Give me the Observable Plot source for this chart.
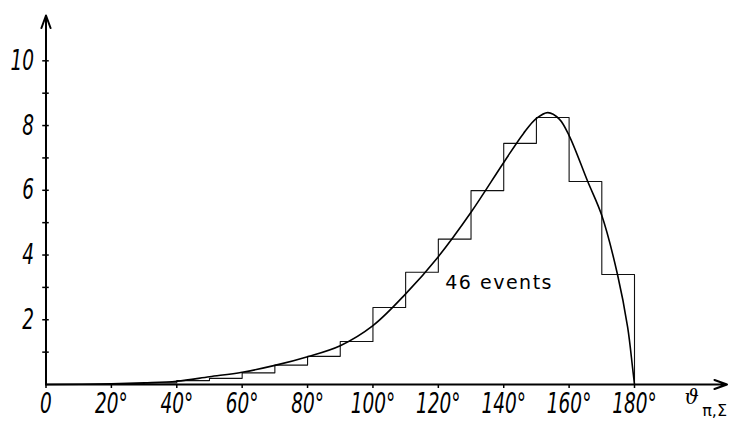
<!DOCTYPE html>
<html><head><meta charset="utf-8">
<script src="https://cdn.jsdelivr.net/npm/d3@7"></script>
<script src="https://cdn.jsdelivr.net/npm/@observablehq/plot@0.6"></script>
<style>
body{margin:0;background:#fff}
</style>
</head><body><div id="chart"></div>
<script>
// Histogram: left edges of 10° bins and their heights
const binEdges = [0,10,20,30,40,50,60,70,80,90,100,110,120,130,140,150,160,170,180];
const binHeights = [0,0,0.02,0.05,0.12,0.19,0.36,0.6,0.87,1.33,2.38,3.47,4.49,5.99,7.45,8.25,6.27,3.40,0];
// Theoretical curve
const curveAngles = [0,20,30,40,50,60,70,80,90,100,110,120,130,140,146,150,153.5,157,160,165.7,170,174.8,177.9,179.4,180];
const curveValues = [0,0.02,0.05,0.1,0.24,0.38,0.59,0.86,1.2,1.82,2.8,3.95,5.32,6.86,7.75,8.22,8.4,8.2,7.69,6.27,5.22,3.40,1.77,0.53,0];
const xTicks = [0,20,40,60,80,100,120,140,160,180];
const yTickLabels = [2,4,6,8,10];
const yTickMarks = [1,2,3,4,5,6,7,8,9,10];
const annotationText = "46 events";
const axisSymbol = "ϑ";
const axisSub = "π,Σ";

const hist = binEdges.map((x,i)=>({x, y: binHeights[i]}));
const curve = curveAngles.map((x,i)=>({x, y: curveValues[i]}));
const axes = [{x1:0,y1:0,x2:208.3,y2:0},{x1:0,y1:0,x2:0,y2:11.4}];
const font = "'DejaVu Sans',sans-serif";

const chart = Plot.plot({
  width:729, height:422,
  marginLeft:45.5, marginRight:95, marginTop:15, marginBottom:38,
  x:{domain:[0,180]},
  y:{domain:[0,11.4]},
  style:{background:"#fff", color:"#000"},
  marks:[
    Plot.axisX({ticks:xTicks, tickFormat:d=>d===0?"0":d+"°", tickSize:4, tickPadding:5,
      fontSize:28, fontFamily:font, fontStyle:"italic", strokeWidth:1.5, label:null}),
    Plot.axisY({ticks:yTickLabels, tickSize:0, tickPadding:12,
      fontSize:28, fontFamily:font, fontStyle:"italic", label:null}),
    Plot.ruleY(yTickMarks, {y:d=>d, x1:-1, x2:1, strokeWidth:1.5}),
    Plot.line(hist, {x:"x", y:"y", curve:"step-after", stroke:"#111", strokeWidth:1.1}),
    Plot.line(curve, {x:"x", y:"y", curve:"catmull-rom", stroke:"#000", strokeWidth:1.6}),
    Plot.arrow(axes, {x1:"x1", y1:"y1", x2:"x2", y2:"y2", stroke:"#000", strokeWidth:2, headLength:10, headAngle:40}),
    Plot.text([annotationText], {x:138.6, y:3.15, text:d=>d, fontSize:19, fontFamily:"DejaVu Sans", fill:"#000"}),
    Plot.text([axisSymbol], {x:197.5, y:-0.4, text:d=>d, fontSize:20, fontFamily:"DejaVu Serif", fontStyle:"italic", fill:"#000"}),
    Plot.text([axisSub], {x:204.5, y:-0.8, text:d=>d, fontSize:16, fontFamily:"DejaVu Sans", fill:"#000"})
  ]
});
d3.select(chart).selectAll("text").filter(function(){return this.textContent===annotationText;}).style("letter-spacing","1.5px");
d3.select(chart).selectAll("g[aria-label='x-axis tick label'] text, g[aria-label='y-axis tick label'] text")
  .attr("transform", function(){ return (this.getAttribute("transform")||"") + " scale(0.66,1)"; });
document.getElementById("chart").appendChild(chart);
</script>
</body></html>
